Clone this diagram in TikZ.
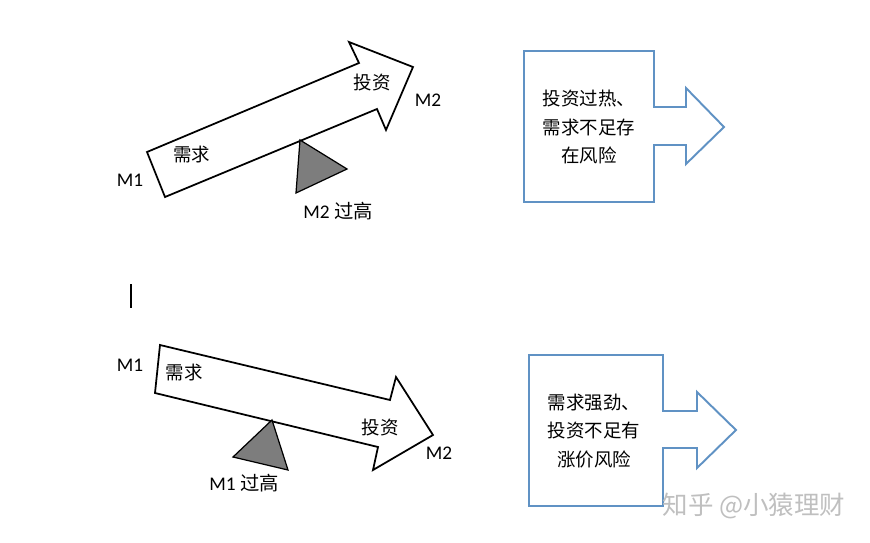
\documentclass[tikz,border=0pt]{standalone}
\usepackage{fontspec}
\setmainfont{Carlito}
\newfontfamily\cjk{Noto Sans CJK SC}
\definecolor{boxblue}{RGB}{96,146,196}
\definecolor{pivotgray}{RGB}{125,125,125}
\tikzset{
 bar/.style={draw=black,line width=1pt,fill=white,line join=miter},
 pivot/.style={draw=black,line width=0.7pt,fill=pivotgray},
 outcome/.style={draw=boxblue,line width=1.1pt,fill=white,line join=miter},
 mtext/.style={font=\fontsize{11}{13}\selectfont},
 zhtext/.style={font=\fontsize{10.5}{12}\selectfont\cjk},
 verdict/.style={align=center,font=\fontsize{10.5}{16.4}\selectfont\cjk},
 }

\begin{document}
\begin{tikzpicture}[x=0.02cm,y=-0.02cm]
    \useasboundingbox (0,0) rectangle (870,542);
    % upper lever: demand low, investment high
    \draw[bar] (147,152) -- (359,63) -- (349,42) -- (413,67) -- (386,130)
        -- (377,109) -- (165,197) -- cycle;
    \draw[pivot] (300,140) -- (347,169) -- (296,193) -- cycle;
    \node[mtext] (m1a) at (130,180) {M1};
    \node[mtext] (m2a) at (428,100) {M2};
    \node[zhtext] (demanda) at (192,155) {需求};
    \node[zhtext] (investa) at (372,83) {投资};
    \node[mtext] (higha) at (338,211) {M2 {\cjk 过高}};
    \draw[outcome] (524,51) -- (654,51) -- (654,107) -- (686,107) -- (686,88)
        -- (724,127) -- (686,164) -- (686,145) -- (654,145) -- (654,202)
        -- (524,202) -- cycle;
    \node[verdict] (riska) at (589,127) {投资过热、\\需求不足存\\在风险};

    \draw[line width=0.6pt] (131,284) -- (131,308);

    % lower lever: demand high, investment low
    \draw[bar] (160,345) -- (390,400) -- (396,377) -- (433,435) -- (373,470)
        -- (378,447) -- (155,393) -- cycle;
    \draw[pivot] (272,420) -- (288,470) -- (233,457) -- cycle;
    \node[mtext] (m1b) at (130,365) {M1};
    \node[mtext] (m2b) at (439,453) {M2};
    \node[zhtext] (demandb) at (184,373) {需求};
    \node[zhtext] (investb) at (380,427) {投资};
    \node[mtext] (highb) at (244,483) {M1 {\cjk 过高}};
    \draw[outcome] (529,355) -- (663,355) -- (663,411) -- (697,411) -- (697,392)
        -- (736,430) -- (697,468) -- (697,448) -- (663,448) -- (663,506)
        -- (529,506) -- cycle;
    \node[verdict] (riskb) at (594,431) {需求强劲、\\投资不足有\\涨价风险};

    \node[font=\fontsize{14.5}{16}\selectfont\cjk,text=gray!50] (mark) at (754,506) {知乎 @小猿理财};
\end{tikzpicture}
\end{document}
